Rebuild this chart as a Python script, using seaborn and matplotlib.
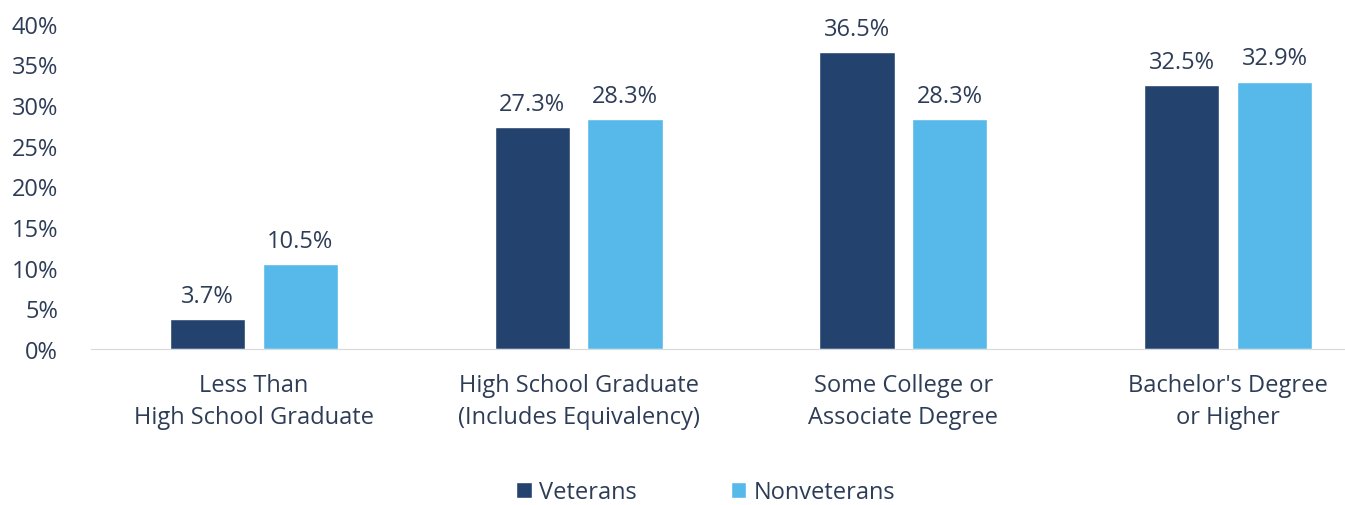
import pandas as pd
import seaborn as sns
import matplotlib.pyplot as plt

# dados
categorias = ['Less Than\nHigh School Graduate', 'High School Graduate\n(Includes Equivalency)',
              'Some College or\nAssociate Degree', "Bachelor's Degree\nor Higher"]
veteranos = [3.7, 27.3, 36.5, 32.5]
nao_veteranos = [10.5, 28.3, 28.3, 32.9]
grupos = ['Veterans', 'Nonveterans']
cores = ['#24426e', '#56b9ea']
cor_texto = '#2e3d57'

df = pd.DataFrame({
    'cat': categorias * 2,
    'valor': veteranos + nao_veteranos,
    'grupo': [grupos[0]] * 4 + [grupos[1]] * 4,
})

sns.set_style('white')
plt.rcParams['font.family'] = ['Open Sans', 'DejaVu Sans']

fig = plt.figure(figsize=(13.45, 5.06), dpi=100)
ax = fig.add_axes([0.068, 0.308, 0.932, 0.643])

sns.barplot(data=df, x='cat', y='valor', hue='grupo', palette=cores,
            width=0.572, gap=0.19, ax=ax, saturation=1)

for cont in ax.containers:
    ax.bar_label(cont, fmt='%.1f%%', padding=8, fontsize=17, color=cor_texto)

ax.set_ylim(0, 40)
ax.set_xlim(-0.5, 3.36)
ax.set_yticks(range(0, 41, 5))
ax.set_yticklabels([f'{t}%' for t in range(0, 41, 5)], fontsize=17, color=cor_texto)
ax.tick_params(axis='x', labelsize=17, labelcolor=cor_texto, pad=17, length=0)
ax.tick_params(axis='y', length=0, pad=24)
for lab in ax.get_xticklabels():
    lab.set_linespacing(1.45)
ax.set_xlabel('')
ax.set_ylabel('')

for s in ['top', 'right', 'left']:
    ax.spines[s].set_visible(False)
ax.spines['bottom'].set_color('#d9d9d9')

ax.legend(loc='center', bbox_to_anchor=(0.49, -0.44), ncol=2, frameon=False,
          fontsize=17, handlelength=0.65, handleheight=0.65, handletextpad=0.3,
          columnspacing=4, labelcolor=cor_texto)

plt.savefig('out.png', dpi=100)
